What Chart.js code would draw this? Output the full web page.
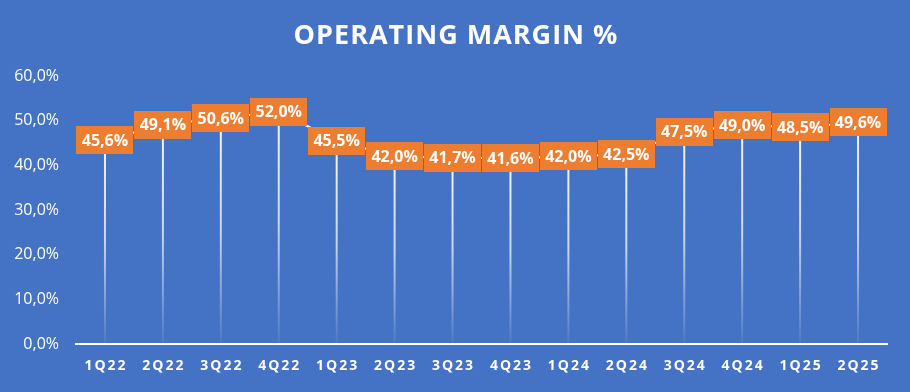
<!DOCTYPE html>
<html>
<head>
<meta charset="utf-8">
<script src="https://cdn.jsdelivr.net/npm/chart.js@4"></script>
<style>
  html, body { margin: 0; padding: 0; background: #4472C4; }
  #wrap { width: 910px; height: 392px; }
</style>
</head>
<body>
<div id="wrap"><canvas id="marginChart" width="910" height="392"></canvas></div>
<script>
const chartTitle = "OPERATING MARGIN %";
const quarters = ["1Q22", "2Q22", "3Q22", "4Q22", "1Q23", "2Q23", "3Q23", "4Q23", "1Q24", "2Q24", "3Q24", "4Q24", "1Q25", "2Q25"];
const operatingMargin = [45.6, 49.1, 50.6, 52.0, 45.5, 42.0, 41.7, 41.6, 42.0, 42.5, 47.5, 49.0, 48.5, 49.6];
const yTicks = [0, 10, 20, 30, 40, 50, 60];

const fontFamily = "'Open Sans', 'Liberation Sans', sans-serif";

function fmtPct(v) {
  return v.toFixed(1).replace(".", ",") + "%";
}

// drop lines behind the line, orange value boxes on top, title and spaced x labels
const decorations = {
  id: "decorations",
  beforeDatasetsDraw(chart) {
    const ctx = chart.ctx;
    const meta = chart.getDatasetMeta(0);
    const base = chart.scales.y.getPixelForValue(0);
    ctx.save();
    meta.data.forEach(pt => {
      const grad = ctx.createLinearGradient(0, pt.y, 0, base);
      grad.addColorStop(0, "rgba(255,255,255,0.95)");
      grad.addColorStop(0.5, "rgba(255,255,255,0.7)");
      grad.addColorStop(1, "rgba(255,255,255,0.05)");
      ctx.strokeStyle = grad;
      ctx.lineWidth = 2;
      ctx.beginPath();
      ctx.moveTo(pt.x, pt.y);
      ctx.lineTo(pt.x, base);
      ctx.stroke();
    });
    ctx.restore();
  },
  afterDatasetsDraw(chart) {
    const ctx = chart.ctx;
    const meta = chart.getDatasetMeta(0);
    ctx.save();
    ctx.font = "bold 16px " + fontFamily;
    ctx.textAlign = "center";
    ctx.textBaseline = "middle";
    meta.data.forEach((pt, i) => {
      const w = 57, h = 28;
      ctx.fillStyle = "#ED7D31";
      ctx.fillRect(Math.round(pt.x - w / 2), Math.round(pt.y - h / 2), w, h);
      ctx.fillStyle = "#FFFFFF";
      ctx.fillText(fmtPct(operatingMargin[i]), pt.x, pt.y + 1);
    });
    ctx.restore();
  },
  afterDraw(chart) {
    const ctx = chart.ctx;
    const xs = chart.scales.x;
    ctx.save();
    ctx.fillStyle = "#FFFFFF";
    ctx.textAlign = "center";
    ctx.textBaseline = "middle";
    ctx.font = "bold 27px " + fontFamily;
    ctx.letterSpacing = "1px";
    ctx.fillText(chartTitle, chart.width / 2 + 1, 36);
    ctx.font = "bold 14px " + fontFamily;
    ctx.letterSpacing = "2px";
    quarters.forEach((q, i) => {
      ctx.fillText(q, xs.getPixelForValue(i) + 1, 366);
    });
    ctx.restore();
  }
};

const ctx = document.getElementById("marginChart").getContext("2d");
const chart = new Chart(ctx, {
  type: "line",
  data: {
    labels: quarters,
    datasets: [{
      label: "Operating margin",
      data: operatingMargin,
      borderColor: "#FFFFFF",
      borderWidth: 2,
      pointRadius: 0,
      tension: 0,
      fill: false
    }]
  },
  options: {
    responsive: false,
    animation: false,
    layout: { padding: { top: 76, right: 23, bottom: 0, left: 0 } },
    plugins: {
      legend: { display: false },
      title: { display: false },
      tooltip: { enabled: false }
    },
    scales: {
      x: {
        offset: true,
        grid: { display: false, drawTicks: false },
        border: { display: true, color: "#FFFFFF", width: 2 },
        ticks: { display: false },
        afterFit(scale) { scale.height = 48; }
      },
      y: {
        min: 0,
        max: 60,
        afterBuildTicks(scale) { scale.ticks = yTicks.map(v => ({ value: v })); },
        grid: { display: false, drawTicks: false },
        border: { display: false },
        ticks: {
          color: "#FFFFFF",
          padding: 17,
          font: { family: fontFamily, size: 16 },
          callback: v => fmtPct(v)
        },
        afterFit(scale) { scale.width = 76; }
      }
    }
  },
  plugins: [decorations]
});
</script>
</body>
</html>
